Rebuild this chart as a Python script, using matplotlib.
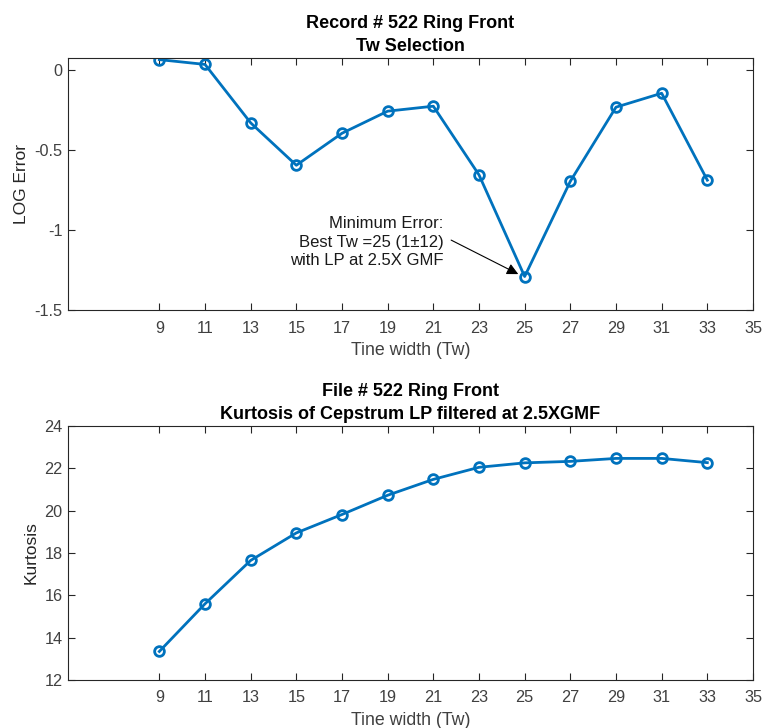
import matplotlib
matplotlib.use("Agg")
import matplotlib.pyplot as plt

tw = [9, 11, 13, 15, 17, 19, 21, 23, 25, 27, 29, 31, 33]
log_error = [0.065, 0.035, -0.33, -0.595, -0.395, -0.257, -0.226, -0.655,
             -1.29, -0.695, -0.232, -0.145, -0.688]
kurtosis = [13.35, 15.6, 17.65, 18.95, 19.82, 20.73, 21.48, 22.05,
            22.26, 22.33, 22.47, 22.47, 22.27]
xticks = list(range(9, 37, 2))
note = 'Minimum Error:\nBest Tw =25 (1\u00b112)\nwith LP at 2.5X GMF'

plt.rcParams['font.family'] = ['Liberation Sans', 'DejaVu Sans']
blue = '#0072BD'
grey = '#262626'
fig = plt.figure(figsize=(7.64, 7.28), dpi=100)
ax1 = fig.add_axes([0.089, 0.574, 0.8966, 0.3463])
ax2 = fig.add_axes([0.089, 0.0659, 0.8966, 0.3489])

for ax in (ax1, ax2):
    ax.set_xlim(5, 35)
    ax.set_xticks(xticks)
    ax.tick_params(direction='in', top=True, right=True, length=5, width=0.8,
                   labelsize=11.7, labelcolor='#404040', color=grey)
    ax.tick_params(axis='x', pad=7.5)
    ax.tick_params(axis='y', pad=4)
    for s in ax.spines.values():
        s.set_linewidth(0.8)
        s.set_color(grey)
    ax.set_xlabel('Tine width (Tw)', fontsize=12.8, color='#404040', labelpad=5)

ax1.plot(tw, log_error, color=blue, lw=2, marker='o', ms=7, mfc='none', mew=2)
ax1.set_ylim(-1.5, 0.075)
ax1.set_yticks([-1.5, -1, -0.5, 0])
ax1.set_yticklabels(['-1.5', '-1', '-0.5', '0'])
ax1.set_ylabel('LOG Error', fontsize=12.5, color='#262626')
ax1.set_title('Record # 522 Ring Front\nTw Selection', fontsize=13,
              fontweight='bold', linespacing=1.45, pad=5)
ax1.text(21.45, -1.075, note, ha='right', va='center', multialignment='right',
         fontsize=12, linespacing=1.3, color='#1a1a1a')
ax1.annotate('', xy=(24.72, -1.275), xytext=(21.78, -1.0625),
             arrowprops=dict(arrowstyle='-|>', color='black', lw=0.8,
                             mutation_scale=17, shrinkA=0, shrinkB=0))

ax2.plot(tw, kurtosis, color=blue, lw=2, marker='o', ms=7, mfc='none', mew=2)
ax2.set_ylim(12, 24)
ax2.set_yticks([12, 14, 16, 18, 20, 22, 24])
ax2.set_ylabel('Kurtosis', fontsize=12.5, color='#262626')
ax2.set_title('File # 522 Ring Front\nKurtosis of Cepstrum LP filtered at 2.5XGMF',
              fontsize=13, fontweight='bold', linespacing=1.45, pad=5)

fig.savefig('out.png', dpi=100)
